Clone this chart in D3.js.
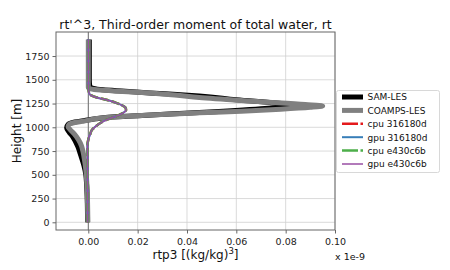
<!DOCTYPE html>
<html><head><meta charset="utf-8">
<script src="https://cdn.jsdelivr.net/npm/d3@7"></script>
<style>body{margin:0;background:#fff}svg{font-family:"DejaVu Sans",sans-serif}</style>
</head><body><svg id="c" width="450" height="270"></svg>
<script>
const xTicks=[0.00,0.02,0.04,0.06,0.08,0.10];
const yTicks=[0,250,500,750,1000,1250,1500,1750];
const samZ=[0,200,400,500,600,700,800,900,950,996,1030,1055,1072,1090,1105,1125,1155,1195,1232,1255,1290,1330,1345,1362,1380,1395,1410,1430,1500,1925];
const samX=[-0.0003,-0.0004,-0.0007,-0.001,-0.0018,-0.003,-0.0043,-0.0063,-0.0078,-0.0088,-0.0082,-0.0055,-0.0015,0.003,0.008,0.022,0.045,0.07,0.0845,0.076,0.06,0.045,0.036,0.025,0.015,0.006,0.002,0.0006,0.0004,0.0004];
const coaZ=[0,300,450,550,650,750,800,870,930,980,1006,1030,1050,1065,1080,1098,1115,1130,1152,1170,1190,1210,1225,1240,1270,1313,1340,1360,1380,1392,1405,1420,1925];
const coaX=[-0.0002,-0.0004,-0.0007,-0.001,-0.0015,-0.0022,-0.0027,-0.004,-0.0057,-0.0075,-0.0082,-0.0078,-0.0055,-0.002,0.001,0.005,0.015,0.025,0.045,0.062,0.078,0.09,0.095,0.088,0.07,0.045,0.035,0.025,0.012,0.005,0.001,0.0,0.0];
const clubbZ=[0,700,800,870,930,970,1010,1042,1080,1112,1150,1183,1210,1234,1260,1279,1300,1314,1335,1356,1400,1925];
const clubbX=[-0.0003,-0.0003,-0.0004,0.0,0.0008,0.0014,0.003,0.0047,0.0075,0.0108,0.014,0.0153,0.015,0.0135,0.011,0.0088,0.0055,0.0034,0.0012,0.0004,0.0001,0.0];
const seriesNames=["SAM-LES","COAMPS-LES","cpu 316180d","gpu 316180d","cpu e430c6b","gpu e430c6b"];

const series=[
 {name:seriesNames[0],z:samZ,x:samX,color:"#000000",w:5,dash:null},
 {name:seriesNames[1],z:coaZ,x:coaX,color:"#808080",w:5,dash:null},
 {name:seriesNames[2],z:clubbZ,x:clubbX,color:"#e41a1c",w:2.5,dash:"8,3"},
 {name:seriesNames[3],z:clubbZ,x:clubbX,color:"#377eb8",w:2,dash:null},
 {name:seriesNames[4],z:clubbZ,x:clubbX,color:"#4daf4a",w:2.5,dash:"8,3"},
 {name:seriesNames[5],z:clubbZ,x:clubbX,color:"#984ea3",w:1.5,dash:null}
];
const L=56,R=335,T=32,B=230;
const x=d3.scaleLinear().domain([-0.0131,0.10]).range([L,R]);
const y=d3.scaleLinear().domain([-81,2003]).range([B,T]);
const svg=d3.select("#c");
const g=svg.append("g");
g.selectAll(".gx").data(xTicks).enter().append("line").attr("x1",d=>x(d)).attr("x2",d=>x(d)).attr("y1",T).attr("y2",B).attr("stroke","#d0d0d0").attr("stroke-width",0.8);
g.selectAll(".gy").data(yTicks).enter().append("line").attr("y1",d=>y(d)).attr("y2",d=>y(d)).attr("x1",L).attr("x2",R).attr("stroke","#d0d0d0").attr("stroke-width",0.8);
g.append("line").attr("x1",x(0)).attr("x2",x(0)).attr("y1",T).attr("y2",B).attr("stroke","#707070").attr("stroke-width",1);
svg.append("clipPath").attr("id","cp").append("rect").attr("x",L).attr("y",T).attr("width",R-L).attr("height",B-T);
const line=d3.line().x(d=>x(d[1])).y(d=>y(d[0])).curve(d3.curveMonotoneY);
series.forEach(s=>{
  const pts=s.z.map((z,i)=>[z,s.x[i]]);
  g.append("path").attr("d",line(pts)).attr("fill","none").attr("stroke",s.color).attr("stroke-width",s.w)
   .attr("stroke-dasharray",s.dash).attr("clip-path","url(#cp)");
});
g.append("rect").attr("x",L).attr("y",T).attr("width",R-L).attr("height",B-T).attr("fill","none").attr("stroke","#666").attr("stroke-width",1);
const xa=svg.append("g").attr("transform",`translate(0,${B})`).call(d3.axisBottom(x).tickValues(xTicks).tickFormat(d3.format(".2f")).tickSize(3.5).tickSizeOuter(0));
const ya=svg.append("g").attr("transform",`translate(${L},0)`).call(d3.axisLeft(y).tickValues(yTicks).tickFormat(d3.format("d")).tickSize(3.5).tickSizeOuter(0));
[xa,ya].forEach(a=>{a.select(".domain").remove();a.selectAll("line").attr("stroke","#666");a.selectAll("text").attr("font-size",9.5).attr("fill","#222").attr("font-family","DejaVu Sans");});
xa.selectAll("text").attr("dy","0.9em");
svg.append("text").attr("x",(L+R)/2).attr("y",29).attr("text-anchor","middle").attr("font-size",12.5).attr("fill","#111").text("rt'^3, Third-order moment of total water, rt");
svg.append("text").attr("transform",`translate(21,${(T+B)/2}) rotate(-90)`).attr("text-anchor","middle").attr("font-size",12).attr("fill","#111").text("Height [m]");
const xl=svg.append("text").attr("x",(L+R)/2).attr("y",259).attr("text-anchor","middle").attr("font-size",12).attr("fill","#111");
xl.append("tspan").text("rtp3 [(kg/kg)");
xl.append("tspan").attr("dy",-5).attr("font-size",8.5).text("3");
xl.append("tspan").attr("dy",5).text("]");
svg.append("text").attr("x",R).attr("y",260).attr("font-size",9.5).attr("fill","#111").text("x 1e-9");
const lg=svg.append("g");
lg.append("rect").attr("x",336.5).attr("y",90.5).attr("width",103).attr("height",82).attr("rx",2).attr("fill","#fff").attr("stroke","#d8d8d8");
series.forEach((s,i)=>{
  const yy=97+i*13.4;
  lg.append("line").attr("x1",342).attr("x2",363).attr("y1",yy).attr("y2",yy).attr("stroke",s.color).attr("stroke-width",s.w).attr("stroke-dasharray",s.dash?"16,2.5":null);
  lg.append("text").attr("x",367.5).attr("y",yy+3.3).attr("font-size",9).attr("fill","#111").text(s.name);
});
</script></body></html>
